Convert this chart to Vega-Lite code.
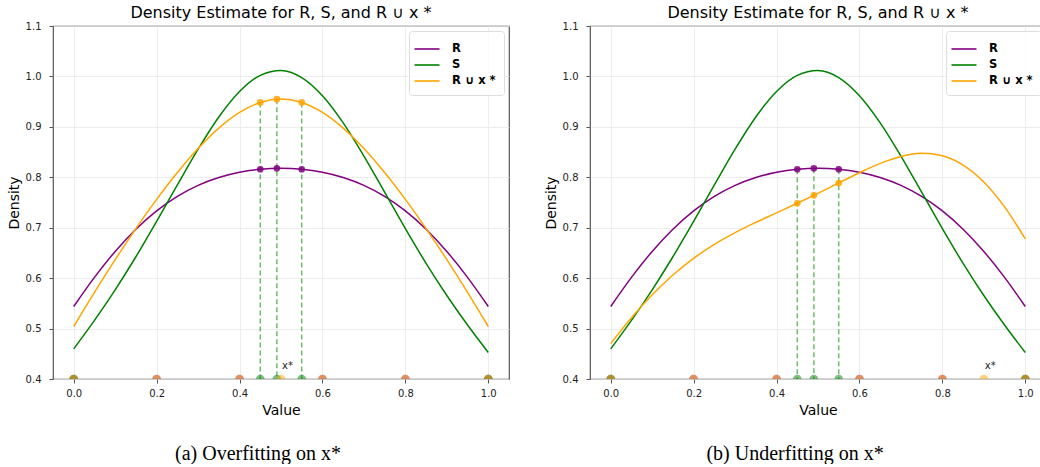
{
  "$schema": "https://vega.github.io/schema/vega-lite/v6.json",
  "padding": {"left": 6, "top": 4, "right": 0, "bottom": 0},
  "background": "white",
  "datasets": {
    "curvesA": [
      {"series": "R", "x": 0.0, "y": 0.5438}, {"series": "R", "x": 0.05, "y": 0.6015}, {"series": "R", "x": 0.1, "y": 0.653}, {"series": "R", "x": 0.15, "y": 0.6971}, {"series": "R", "x": 0.2, "y": 0.7334}, {"series": "R", "x": 0.25, "y": 0.7622}, {"series": "R", "x": 0.3, "y": 0.784}, {"series": "R", "x": 0.35, "y": 0.7996}, {"series": "R", "x": 0.4, "y": 0.81}, {"series": "R", "x": 0.45, "y": 0.8159}, {"series": "R", "x": 0.5, "y": 0.8178}, {"series": "R", "x": 0.55, "y": 0.8159}, {"series": "R", "x": 0.6, "y": 0.81}, {"series": "R", "x": 0.65, "y": 0.7996}, {"series": "R", "x": 0.7, "y": 0.784}, {"series": "R", "x": 0.75, "y": 0.7622}, {"series": "R", "x": 0.8, "y": 0.7334}, {"series": "R", "x": 0.85, "y": 0.6971}, {"series": "R", "x": 0.9, "y": 0.653}, {"series": "R", "x": 0.95, "y": 0.6015}, {"series": "R", "x": 1.0, "y": 0.5438},
      {"series": "S", "x": 0.0, "y": 0.4597}, {"series": "S", "x": 0.05, "y": 0.5162}, {"series": "S", "x": 0.1, "y": 0.5768}, {"series": "S", "x": 0.15, "y": 0.6424}, {"series": "S", "x": 0.2, "y": 0.7125}, {"series": "S", "x": 0.25, "y": 0.7849}, {"series": "S", "x": 0.3, "y": 0.8558}, {"series": "S", "x": 0.35, "y": 0.9196}, {"series": "S", "x": 0.4, "y": 0.9702}, {"series": "S", "x": 0.45, "y": 1.0022}, {"series": "S", "x": 0.5, "y": 1.0117}, {"series": "S", "x": 0.55, "y": 0.9976}, {"series": "S", "x": 0.6, "y": 0.9616}, {"series": "S", "x": 0.65, "y": 0.9078}, {"series": "S", "x": 0.7, "y": 0.842}, {"series": "S", "x": 0.75, "y": 0.7704}, {"series": "S", "x": 0.8, "y": 0.6982}, {"series": "S", "x": 0.85, "y": 0.6294}, {"series": "S", "x": 0.9, "y": 0.5656}, {"series": "S", "x": 0.95, "y": 0.507}, {"series": "S", "x": 1.0, "y": 0.4526},
      {"series": "R ∪ x *", "x": 0.0, "y": 0.5041}, {"series": "R ∪ x *", "x": 0.05, "y": 0.5718}, {"series": "R ∪ x *", "x": 0.1, "y": 0.6368}, {"series": "R ∪ x *", "x": 0.15, "y": 0.6983}, {"series": "R ∪ x *", "x": 0.2, "y": 0.7561}, {"series": "R ∪ x *", "x": 0.25, "y": 0.8094}, {"series": "R ∪ x *", "x": 0.3, "y": 0.8571}, {"series": "R ∪ x *", "x": 0.35, "y": 0.8976}, {"series": "R ∪ x *", "x": 0.4, "y": 0.9287}, {"series": "R ∪ x *", "x": 0.45, "y": 0.9484}, {"series": "R ∪ x *", "x": 0.5, "y": 0.9552}, {"series": "R ∪ x *", "x": 0.55, "y": 0.9484}, {"series": "R ∪ x *", "x": 0.6, "y": 0.9287}, {"series": "R ∪ x *", "x": 0.65, "y": 0.8976}, {"series": "R ∪ x *", "x": 0.7, "y": 0.8571}, {"series": "R ∪ x *", "x": 0.75, "y": 0.8094}, {"series": "R ∪ x *", "x": 0.8, "y": 0.7561}, {"series": "R ∪ x *", "x": 0.85, "y": 0.6983}, {"series": "R ∪ x *", "x": 0.9, "y": 0.6368}, {"series": "R ∪ x *", "x": 0.95, "y": 0.5718}, {"series": "R ∪ x *", "x": 1.0, "y": 0.5041}
    ],
    "curvesB": [
      {"series": "R", "x": 0.0, "y": 0.5438}, {"series": "R", "x": 0.05, "y": 0.6015}, {"series": "R", "x": 0.1, "y": 0.653}, {"series": "R", "x": 0.15, "y": 0.6971}, {"series": "R", "x": 0.2, "y": 0.7334}, {"series": "R", "x": 0.25, "y": 0.7622}, {"series": "R", "x": 0.3, "y": 0.784}, {"series": "R", "x": 0.35, "y": 0.7996}, {"series": "R", "x": 0.4, "y": 0.81}, {"series": "R", "x": 0.45, "y": 0.8159}, {"series": "R", "x": 0.5, "y": 0.8178}, {"series": "R", "x": 0.55, "y": 0.8159}, {"series": "R", "x": 0.6, "y": 0.81}, {"series": "R", "x": 0.65, "y": 0.7996}, {"series": "R", "x": 0.7, "y": 0.784}, {"series": "R", "x": 0.75, "y": 0.7622}, {"series": "R", "x": 0.8, "y": 0.7334}, {"series": "R", "x": 0.85, "y": 0.6971}, {"series": "R", "x": 0.9, "y": 0.653}, {"series": "R", "x": 0.95, "y": 0.6015}, {"series": "R", "x": 1.0, "y": 0.5438},
      {"series": "S", "x": 0.0, "y": 0.4597}, {"series": "S", "x": 0.05, "y": 0.5162}, {"series": "S", "x": 0.1, "y": 0.5768}, {"series": "S", "x": 0.15, "y": 0.6424}, {"series": "S", "x": 0.2, "y": 0.7125}, {"series": "S", "x": 0.25, "y": 0.7849}, {"series": "S", "x": 0.3, "y": 0.8558}, {"series": "S", "x": 0.35, "y": 0.9196}, {"series": "S", "x": 0.4, "y": 0.9702}, {"series": "S", "x": 0.45, "y": 1.0022}, {"series": "S", "x": 0.5, "y": 1.0117}, {"series": "S", "x": 0.55, "y": 0.9976}, {"series": "S", "x": 0.6, "y": 0.9616}, {"series": "S", "x": 0.65, "y": 0.9078}, {"series": "S", "x": 0.7, "y": 0.842}, {"series": "S", "x": 0.75, "y": 0.7704}, {"series": "S", "x": 0.8, "y": 0.6982}, {"series": "S", "x": 0.85, "y": 0.6294}, {"series": "S", "x": 0.9, "y": 0.5656}, {"series": "S", "x": 0.95, "y": 0.507}, {"series": "S", "x": 1.0, "y": 0.4526},
      {"series": "R ∪ x *", "x": 0.0, "y": 0.4701}, {"series": "R ∪ x *", "x": 0.05, "y": 0.5213}, {"series": "R ∪ x *", "x": 0.1, "y": 0.5669}, {"series": "R ∪ x *", "x": 0.15, "y": 0.6063}, {"series": "R ∪ x *", "x": 0.2, "y": 0.6393}, {"series": "R ∪ x *", "x": 0.25, "y": 0.6669}, {"series": "R ∪ x *", "x": 0.3, "y": 0.6901}, {"series": "R ∪ x *", "x": 0.35, "y": 0.7105}, {"series": "R ∪ x *", "x": 0.4, "y": 0.7295}, {"series": "R ∪ x *", "x": 0.45, "y": 0.7485}, {"series": "R ∪ x *", "x": 0.5, "y": 0.7682}, {"series": "R ∪ x *", "x": 0.55, "y": 0.7887}, {"series": "R ∪ x *", "x": 0.6, "y": 0.809}, {"series": "R ∪ x *", "x": 0.65, "y": 0.8275}, {"series": "R ∪ x *", "x": 0.7, "y": 0.8413}, {"series": "R ∪ x *", "x": 0.75, "y": 0.8475}, {"series": "R ∪ x *", "x": 0.8, "y": 0.8427}, {"series": "R ∪ x *", "x": 0.85, "y": 0.8243}, {"series": "R ∪ x *", "x": 0.9, "y": 0.7906}, {"series": "R ∪ x *", "x": 0.95, "y": 0.7413}, {"series": "R ∪ x *", "x": 1.0, "y": 0.678}
    ],
    "rulesA": [
      {"x": 0.45, "y": 0.9484, "y0": 0.4}, {"x": 0.49, "y": 0.9549, "y0": 0.4}, {"x": 0.55, "y": 0.9484, "y0": 0.4}
    ],
    "rulesB": [
      {"x": 0.45, "y": 0.8159, "y0": 0.4}, {"x": 0.49, "y": 0.8177, "y0": 0.4}, {"x": 0.55, "y": 0.8159, "y0": 0.4}
    ],
    "dotsA": [
      {"series": "R", "x": 0.45, "y": 0.8159}, {"series": "R", "x": 0.49, "y": 0.8177}, {"series": "R", "x": 0.55, "y": 0.8159},
      {"series": "R ∪ x *", "x": 0.45, "y": 0.9484}, {"series": "R ∪ x *", "x": 0.49, "y": 0.9549}, {"series": "R ∪ x *", "x": 0.55, "y": 0.9484}
    ],
    "dotsB": [
      {"series": "R", "x": 0.45, "y": 0.8159}, {"series": "R", "x": 0.49, "y": 0.8177}, {"series": "R", "x": 0.55, "y": 0.8159},
      {"series": "R ∪ x *", "x": 0.45, "y": 0.7485}, {"series": "R ∪ x *", "x": 0.49, "y": 0.7642}, {"series": "R ∪ x *", "x": 0.55, "y": 0.7887}
    ],
    "rugA": [
      {"series": "R", "x": 0.0, "y": 0.4}, {"series": "R", "x": 0.2, "y": 0.4}, {"series": "R", "x": 0.4, "y": 0.4}, {"series": "R", "x": 0.6, "y": 0.4}, {"series": "R", "x": 0.8, "y": 0.4}, {"series": "R", "x": 1.0, "y": 0.4},
      {"series": "S", "x": 0.0, "y": 0.4}, {"series": "S", "x": 0.45, "y": 0.4}, {"series": "S", "x": 0.49, "y": 0.4}, {"series": "S", "x": 0.55, "y": 0.4}, {"series": "S", "x": 1.0, "y": 0.4},
      {"series": "R ∪ x *", "x": 0.0, "y": 0.4}, {"series": "R ∪ x *", "x": 0.2, "y": 0.4}, {"series": "R ∪ x *", "x": 0.4, "y": 0.4}, {"series": "R ∪ x *", "x": 0.5, "y": 0.4}, {"series": "R ∪ x *", "x": 0.6, "y": 0.4}, {"series": "R ∪ x *", "x": 0.8, "y": 0.4}, {"series": "R ∪ x *", "x": 1.0, "y": 0.4}
    ],
    "rugB": [
      {"series": "R", "x": 0.0, "y": 0.4}, {"series": "R", "x": 0.2, "y": 0.4}, {"series": "R", "x": 0.4, "y": 0.4}, {"series": "R", "x": 0.6, "y": 0.4}, {"series": "R", "x": 0.8, "y": 0.4}, {"series": "R", "x": 1.0, "y": 0.4},
      {"series": "S", "x": 0.0, "y": 0.4}, {"series": "S", "x": 0.45, "y": 0.4}, {"series": "S", "x": 0.49, "y": 0.4}, {"series": "S", "x": 0.55, "y": 0.4}, {"series": "S", "x": 1.0, "y": 0.4},
      {"series": "R ∪ x *", "x": 0.0, "y": 0.4}, {"series": "R ∪ x *", "x": 0.2, "y": 0.4}, {"series": "R ∪ x *", "x": 0.4, "y": 0.4}, {"series": "R ∪ x *", "x": 0.6, "y": 0.4}, {"series": "R ∪ x *", "x": 0.8, "y": 0.4}, {"series": "R ∪ x *", "x": 0.9, "y": 0.4}, {"series": "R ∪ x *", "x": 1.0, "y": 0.4}
    ],
    "labelA": [{"x": 0.5, "y": 0.4, "label": "x*"}],
    "labelB": [{"x": 0.9, "y": 0.4, "label": "x*"}]
  },
  "hconcat": [
    {
      "title": {"text": "(a) Overfitting on x*", "orient": "bottom", "anchor": "middle", "font": "Liberation Serif", "fontSize": 20, "fontWeight": "normal", "color": "#000", "offset": 26},
      "resolve": {"scale": {"color": "independent", "fill": "independent"}, "legend": {"color": "independent"}},
      "vconcat": [
        {
          "width": 456, "height": 353,
          "title": {"text": "Density Estimate for R, S, and R ∪ x *", "font": "DejaVu Sans", "fontSize": 16, "fontWeight": "normal", "color": "#000", "offset": 0, "anchor": "middle"},
          "layer": [
            {"data": {"name": "curvesA"}, "mark": {"type": "line", "strokeWidth": 1.5, "interpolate": "monotone", "clip": true},
             "encoding": {
               "x": {"field": "x", "type": "quantitative", "title": "Value", "scale": {"domain": [-0.05, 1.05], "nice": false, "zero": false}, "axis": {"values": [0, 0.2, 0.4, 0.6, 0.8, 1.0], "format": ".1f"}},
               "y": {"field": "y", "type": "quantitative", "title": "Density", "scale": {"domain": [0.4, 1.1], "nice": false, "zero": false}, "axis": {"values": [0.4, 0.5, 0.6, 0.7, 0.8, 0.9, 1.0, 1.1], "format": ".1f"}},
               "color": {"field": "series", "type": "nominal", "title": null, "scale": {"domain": ["R", "S", "R ∪ x *"], "range": ["#800080", "#008000", "#ffa500"]}, "legend": {"orient": "top-right", "offset": 5}}
             }},
            {"data": {"name": "rulesA"}, "mark": {"type": "rule", "strokeDash": [5, 3], "color": "#1f9a1f", "opacity": 0.65, "strokeWidth": 1.5},
             "encoding": {"x": {"field": "x", "type": "quantitative", "title": "Value"}, "y": {"field": "y", "type": "quantitative", "title": "Density"}, "y2": {"field": "y0"}}},
            {"data": {"name": "dotsA"}, "mark": {"type": "point", "filled": true, "opacity": 0.85, "size": 45},
             "encoding": {"x": {"field": "x", "type": "quantitative", "title": "Value"}, "y": {"field": "y", "type": "quantitative", "title": "Density"},
               "fill": {"field": "series", "type": "nominal", "scale": {"domain": ["R", "S", "R ∪ x *"], "range": ["#800080", "#008000", "#ffa500"]}, "legend": null}}},
            {"data": {"name": "rugA"}, "mark": {"type": "point", "filled": true, "opacity": 0.5, "size": 75, "clip": true},
             "encoding": {"x": {"field": "x", "type": "quantitative", "title": "Value"}, "y": {"field": "y", "type": "quantitative", "title": "Density"},
               "fill": {"field": "series", "type": "nominal", "scale": {"domain": ["R", "S", "R ∪ x *"], "range": ["#800080", "#008000", "#ffa500"]}, "legend": null}}},
            {"data": {"name": "labelA"}, "mark": {"type": "text", "align": "left", "dx": 1, "dy": -13, "fontSize": 10, "font": "DejaVu Sans", "color": "#222"},
             "encoding": {"x": {"field": "x", "type": "quantitative", "title": "Value"}, "y": {"field": "y", "type": "quantitative", "title": "Density"}, "text": {"field": "label"}}}
          ]
        }
      ]
    },
    {
      "title": {"text": "(b) Underfitting on x*", "orient": "bottom", "anchor": "middle", "font": "Liberation Serif", "fontSize": 20, "fontWeight": "normal", "color": "#000", "offset": 26},
      "resolve": {"scale": {"color": "independent", "fill": "independent"}, "legend": {"color": "independent"}},
      "vconcat": [
        {
          "width": 456, "height": 353,
          "title": {"text": "Density Estimate for R, S, and R ∪ x *", "font": "DejaVu Sans", "fontSize": 16, "fontWeight": "normal", "color": "#000", "offset": 0, "anchor": "middle"},
          "layer": [
            {"data": {"name": "curvesB"}, "mark": {"type": "line", "strokeWidth": 1.5, "interpolate": "monotone", "clip": true},
             "encoding": {
               "x": {"field": "x", "type": "quantitative", "title": "Value", "scale": {"domain": [-0.05, 1.05], "nice": false, "zero": false}, "axis": {"values": [0, 0.2, 0.4, 0.6, 0.8, 1.0], "format": ".1f"}},
               "y": {"field": "y", "type": "quantitative", "title": "Density", "scale": {"domain": [0.4, 1.1], "nice": false, "zero": false}, "axis": {"values": [0.4, 0.5, 0.6, 0.7, 0.8, 0.9, 1.0, 1.1], "format": ".1f"}},
               "color": {"field": "series", "type": "nominal", "title": null, "scale": {"domain": ["R", "S", "R ∪ x *"], "range": ["#800080", "#008000", "#ffa500"]}, "legend": {"orient": "top-right", "offset": 5}}
             }},
            {"data": {"name": "rulesB"}, "mark": {"type": "rule", "strokeDash": [5, 3], "color": "#1f9a1f", "opacity": 0.65, "strokeWidth": 1.5},
             "encoding": {"x": {"field": "x", "type": "quantitative", "title": "Value"}, "y": {"field": "y", "type": "quantitative", "title": "Density"}, "y2": {"field": "y0"}}},
            {"data": {"name": "dotsB"}, "mark": {"type": "point", "filled": true, "opacity": 0.85, "size": 45},
             "encoding": {"x": {"field": "x", "type": "quantitative", "title": "Value"}, "y": {"field": "y", "type": "quantitative", "title": "Density"},
               "fill": {"field": "series", "type": "nominal", "scale": {"domain": ["R", "S", "R ∪ x *"], "range": ["#800080", "#008000", "#ffa500"]}, "legend": null}}},
            {"data": {"name": "rugB"}, "mark": {"type": "point", "filled": true, "opacity": 0.5, "size": 75, "clip": true},
             "encoding": {"x": {"field": "x", "type": "quantitative", "title": "Value"}, "y": {"field": "y", "type": "quantitative", "title": "Density"},
               "fill": {"field": "series", "type": "nominal", "scale": {"domain": ["R", "S", "R ∪ x *"], "range": ["#800080", "#008000", "#ffa500"]}, "legend": null}}},
            {"data": {"name": "labelB"}, "mark": {"type": "text", "align": "left", "dx": 1, "dy": -13, "fontSize": 10, "font": "DejaVu Sans", "color": "#222"},
             "encoding": {"x": {"field": "x", "type": "quantitative", "title": "Value"}, "y": {"field": "y", "type": "quantitative", "title": "Density"}, "text": {"field": "label"}}}
          ]
        }
      ]
    }
  ],
  "spacing": 33,
  "resolve": {"scale": {"color": "independent", "fill": "independent"}, "legend": {"color": "independent"}},
  "config": {
    "view": {"stroke": "#555", "strokeWidth": 1.2},
    "axis": {"domain": false, "grid": true, "gridColor": "#e8e8e8", "gridWidth": 0.8, "tickColor": "#555", "tickSize": 4, "tickWidth": 1, "labelFont": "DejaVu Sans", "labelFontSize": 10, "labelColor": "#222", "titleFont": "DejaVu Sans", "titleFontSize": 14, "titleFontWeight": "normal", "titleColor": "#000"},
    "axisX": {"labelPadding": 5, "titlePadding": 5},
    "axisY": {"labelPadding": 8, "titlePadding": 4},
    "legend": {"symbolType": "M-1.39,0H1.39", "symbolSize": 324, "symbolStrokeWidth": 1.6, "labelFont": "DejaVu Sans", "labelFontSize": 11.5, "labelFontWeight": "bold", "labelColor": "#000", "labelOffset": 15, "rowPadding": 0, "padding": 8, "strokeColor": "#dddddd", "fillColor": "rgba(255,255,255,0.8)", "cornerRadius": 3}
  }
}
